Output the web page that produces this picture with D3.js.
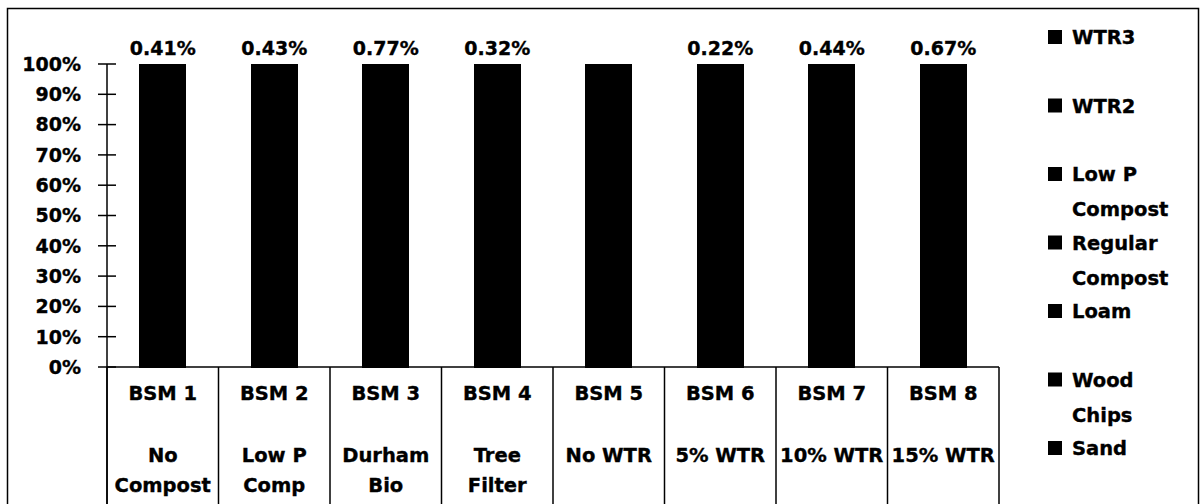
<!DOCTYPE html>
<html>
<head>
<meta charset="utf-8">
<script src="https://cdn.jsdelivr.net/npm/d3@7"></script>
<style>
  html, body { margin: 0; padding: 0; background: #fff; }
  svg { display: block; }
  text { font-family: "DejaVu Sans", sans-serif; font-weight: bold; fill: #000; stroke: #000; stroke-width: 0.35px; }
</style>
</head>
<body>
<svg id="chart" width="1204" height="504"></svg>
<script>
// Soil media mixes: category labels (line 1 = mix id, line 2+ = description)
const mixIds = ["BSM 1", "BSM 2", "BSM 3", "BSM 4", "BSM 5", "BSM 6", "BSM 7", "BSM 8"];
const mixNotes = [["No", "Compost"], ["Low P", "Comp"], ["Durham", "Bio"], ["Tree", "Filter"],
                  ["No WTR"], ["5% WTR"], ["10% WTR"], ["15% WTR"]];

// Component share of each mix (% by volume), stacked bottom to top
const sand         = [70, 60, 60, 85, 60, 55, 50, 45];
const woodChips    = [ 0,  0,  0,  0, 10, 10, 10, 10];
const loam         = [30, 20, 20, 15, 15, 15, 15, 15];
const regCompost   = [ 0,  0, 20,  0, 15, 15, 15, 15];
const lowPCompost  = [ 0, 20,  0,  0,  0,  0,  0,  0];
const wtr2         = [ 0,  0,  0,  0,  0,  5,  0,  0];
const wtr3         = [ 0,  0,  0,  0,  0,  0, 10, 15];

// Total P of each mix, printed above the bars (BSM 5 has no value)
const totalP = [0.41, 0.43, 0.77, 0.32, null, 0.22, 0.44, 0.67];

// Y axis tick values (%)
const yTicks = [0, 10, 20, 30, 40, 50, 60, 70, 80, 90, 100];

// Series in stacking order with their legend text lines
const seriesKeys   = ["sand", "woodChips", "loam", "regCompost", "lowPCompost", "wtr2", "wtr3"];
const seriesNames  = [["Sand"], ["Wood", "Chips"], ["Loam"], ["Regular", "Compost"], ["Low P", "Compost"], ["WTR2"], ["WTR3"]];
const seriesColors = ["#000", "#000", "#000", "#000", "#000", "#000", "#000"];

const seriesData = { sand, woodChips, loam, regCompost, lowPCompost, wtr2, wtr3 };
const rows = mixIds.map((id, i) => {
  const r = { id };
  seriesKeys.forEach(k => { r[k] = seriesData[k][i]; });
  return r;
});

const svg = d3.select("#chart");

// Outer chart frame
svg.append("rect")
  .attr("x", 7.5).attr("y", 8.5)
  .attr("width", 1191).attr("height", 510)
  .attr("fill", "none").attr("stroke", "#000").attr("stroke-width", 1.5);

const plot = { left: 107, right: 999, top: 64, bottom: 367 };

const x = d3.scaleBand()
  .domain(mixIds)
  .range([plot.left, plot.right])
  .paddingInner(0.58)
  .paddingOuter(0.29);

const y = d3.scaleLinear()
  .domain([0, 100])
  .range([plot.bottom, plot.top]);

const stack = d3.stack().keys(seriesKeys);
const stacked = stack(rows);

// Stacked bars
const layers = svg.append("g")
  .attr("shape-rendering", "crispEdges")
  .selectAll("g")
  .data(stacked)
  .join("g")
  .attr("fill", (d, i) => seriesColors[i]);

layers.selectAll("rect")
  .data(d => d.filter(s => s[1] > s[0]))
  .join("rect")
  .attr("x", d => x(d.data.id))
  .attr("width", x.bandwidth())
  .attr("y", d => y(d[1]))
  .attr("height", d => y(d[0]) - y(d[1]) + 0.5);

// Y axis: vertical line, cross ticks and % labels
const yAxis = svg.append("g");
yAxis.append("line")
  .attr("x1", plot.left).attr("x2", plot.left)
  .attr("y1", y(100)).attr("y2", 504)
  .attr("stroke", "#000").attr("stroke-width", 1.5);

yAxis.selectAll(".tick")
  .data(yTicks)
  .join("line")
  .attr("class", "tick")
  .attr("x1", plot.left - 9).attr("x2", plot.left + 9)
  .attr("y1", d => y(d)).attr("y2", d => y(d))
  .attr("stroke", "#000").attr("stroke-width", 1.5);

yAxis.selectAll(".tlabel")
  .data(yTicks)
  .join("text")
  .attr("class", "tlabel")
  .attr("x", 81)
  .attr("y", d => y(d))
  .attr("dy", "0.36em")
  .attr("text-anchor", "end")
  .style("font-size", "19px")
  .text(d => d + "%");

// X axis baseline and category separators
const xAxis = svg.append("g");
xAxis.append("line")
  .attr("x1", plot.left).attr("x2", plot.right)
  .attr("y1", plot.bottom).attr("y2", plot.bottom)
  .attr("stroke", "#000").attr("stroke-width", 1.5);

const bounds = mixIds.map(id => x(id) - x.step() * x.paddingInner() / 2);
bounds.push(plot.right);
xAxis.selectAll(".sep")
  .data(bounds)
  .join("line")
  .attr("class", "sep")
  .attr("x1", d => d).attr("x2", d => d)
  .attr("y1", plot.bottom).attr("y2", 504)
  .attr("stroke", "#000").attr("stroke-width", 1.5);

// Category labels: id on the first line, description after a blank line
const cat = xAxis.selectAll(".cat")
  .data(mixIds)
  .join("text")
  .attr("class", "cat")
  .attr("text-anchor", "middle")
  .style("font-size", "19.5px");

cat.each(function (id, i) {
  const t = d3.select(this);
  const cx = x(id) + x.bandwidth() / 2;
  t.append("tspan").attr("x", cx).attr("y", 400).text(id);
  mixNotes[i].forEach((line, j) => {
    t.append("tspan").attr("x", cx).attr("y", 462 + j * 30).text(line);
  });
});

// Value labels above the bars
svg.append("g").selectAll("text")
  .data(mixIds.map((id, i) => ({ id, v: totalP[i] })).filter(d => d.v != null))
  .join("text")
  .attr("x", d => x(d.id) + x.bandwidth() / 2)
  .attr("y", 55)
  .attr("text-anchor", "middle")
  .style("font-size", "19px")
  .text(d => d.v.toFixed(2) + "%");

// Legend, last series first
const legendOrder = d3.range(seriesKeys.length).reverse();
const legend = svg.append("g").selectAll("g")
  .data(legendOrder)
  .join("g")
  .attr("transform", (d, i) => `translate(1048, ${37 + i * 68.5})`);

legend.append("rect")
  .attr("x", 0).attr("y", -7)
  .attr("width", 14).attr("height", 14)
  .attr("fill", d => seriesColors[d]);

legend.append("text")
  .style("font-size", "19.5px")
  .each(function (d) {
    const t = d3.select(this);
    seriesNames[d].forEach((line, j) => {
      t.append("tspan").attr("x", 24).attr("y", j * 35).attr("dy", "0.36em").text(line);
    });
  });
</script>
</body>
</html>
